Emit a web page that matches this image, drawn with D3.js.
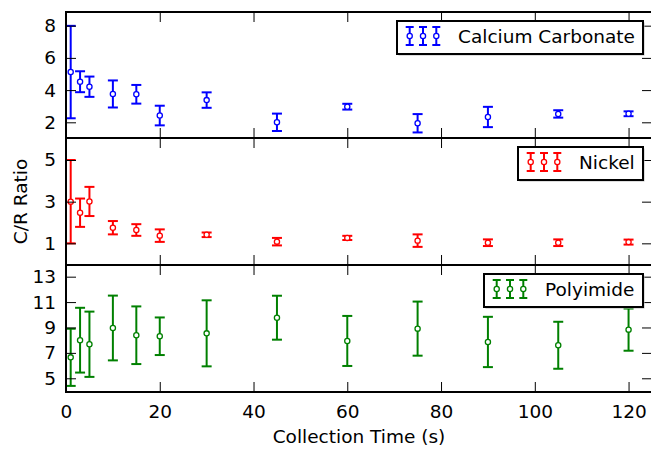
<!DOCTYPE html>
<html>
<head>
<meta charset="utf-8">
<script src="https://cdn.jsdelivr.net/npm/d3@7"></script>
<style>
  html, body { margin: 0; padding: 0; background: #fff; }
  svg { display: block; }
  text { font-family: "DejaVu Sans", sans-serif; }
</style>
</head>
<body>
<svg id="chart" width="651" height="450"></svg>
<script>
// ---------- data ----------
const times = [1, 3, 5, 10, 15, 20, 30, 45, 60, 75, 90, 105, 120];

const caMean = [5.12, 4.52, 4.21, 3.76, 3.74, 2.42, 3.38, 2.00, 2.97, 1.94, 2.33, 2.52, 2.53];
const caErr  = [2.87, 0.65, 0.63, 0.84, 0.58, 0.61, 0.48, 0.54, 0.18, 0.57, 0.63, 0.23, 0.15];

const niMean = [3.00, 2.47, 3.01, 1.75, 1.64, 1.37, 1.41, 1.08, 1.26, 1.13, 1.03, 1.03, 1.06];
const niErr  = [2.00, 0.68, 0.70, 0.32, 0.28, 0.30, 0.11, 0.18, 0.10, 0.30, 0.16, 0.16, 0.12];

const piMean = [6.65, 8.00, 7.68, 8.96, 8.39, 8.31, 8.54, 9.77, 7.94, 8.91, 7.86, 7.60, 8.83];
const piErr  = [2.25, 2.55, 2.57, 2.55, 2.27, 1.48, 2.60, 1.73, 1.97, 2.13, 1.98, 1.85, 1.66];

const seriesNames = ["Calcium Carbonate", "Nickel", "Polyimide"];
const xTicks = [0, 20, 40, 60, 80, 100, 120];
const caTicks = [2, 4, 6, 8];
const niTicks = [1, 3, 5];
const piTicks = [5, 7, 9, 11, 13];

const xLabel = "Collection Time (s)";
const yLabel = "C/R Ratio";

// ---------- layout ----------
const svg = d3.select("#chart");
const W = 651, H = 450;
svg.append("rect").attr("width", W).attr("height", H).attr("fill", "#fff");

const left = 66, right = 652;
const fontSize = 18.5;

const x = d3.scaleLinear().domain([0, 125]).range([left, right]);

const panels = [
  { name: seriesNames[0], mean: caMean, err: caErr, ticks: caTicks, color: "#0000ff",
    top: 12, bottom: 138, domain: [1.025, 8.85], legendLeft: 397 },
  { name: seriesNames[1], mean: niMean, err: niErr, ticks: niTicks, color: "#ff0000",
    top: 138, bottom: 265, domain: [-0.04, 6.056], legendLeft: 518 },
  { name: seriesNames[2], mean: piMean, err: piErr, ticks: piTicks, color: "#008000",
    top: 265, bottom: 392, domain: [3.92, 13.92], legendLeft: 484 }
];

const legendRight = 643;
const capHalf = 5;

panels.forEach((p, i) => {
  const y = d3.scaleLinear().domain(p.domain).range([p.bottom, p.top]);
  const g = svg.append("g");

  const clipId = "clip" + i;
  svg.append("clipPath").attr("id", clipId)
    .append("rect").attr("x", left - 8).attr("y", p.top).attr("width", right - left + 16).attr("height", p.bottom - p.top);

  const data = times.map((t, k) => ({ t, m: p.mean[k], e: p.err[k] }));
  const dg = g.append("g").attr("clip-path", `url(#${clipId})`);

  const bars = dg.selectAll("g.eb").data(data).enter().append("g").attr("class", "eb");
  bars.append("line")
    .attr("x1", d => x(d.t)).attr("x2", d => x(d.t))
    .attr("y1", d => y(d.m - d.e)).attr("y2", d => y(d.m + d.e))
    .attr("stroke", p.color).attr("stroke-width", 2);
  bars.append("line")
    .attr("x1", d => x(d.t) - capHalf).attr("x2", d => x(d.t) + capHalf)
    .attr("y1", d => y(d.m + d.e)).attr("y2", d => y(d.m + d.e))
    .attr("stroke", p.color).attr("stroke-width", 2);
  bars.append("line")
    .attr("x1", d => x(d.t) - capHalf).attr("x2", d => x(d.t) + capHalf)
    .attr("y1", d => y(d.m - d.e)).attr("y2", d => y(d.m - d.e))
    .attr("stroke", p.color).attr("stroke-width", 2);
  bars.append("circle")
    .attr("cx", d => x(d.t)).attr("cy", d => y(d.m)).attr("r", 2.6)
    .attr("fill", "#fff").attr("stroke", p.color).attr("stroke-width", 1.3);

  const axL = d3.axisLeft(y).tickValues(p.ticks).tickSize(-10).tickPadding(10).tickFormat(d3.format("d"));
  const axR = d3.axisRight(y).tickValues(p.ticks).tickSize(-10).tickFormat("");
  const axB = d3.axisBottom(x).tickValues(xTicks).tickSize(-10).tickPadding(13).tickFormat(d3.format("d"));
  const axT = d3.axisTop(x).tickValues(xTicks).tickSize(-10).tickFormat("");

  const gl = g.append("g").attr("transform", `translate(${left},0)`).call(axL);
  const gr = g.append("g").attr("transform", `translate(${right},0)`).call(axR);
  const gb = g.append("g").attr("transform", `translate(0,${p.bottom})`).call(axB);
  const gt = g.append("g").attr("transform", `translate(0,${p.top})`).call(axT);
  [gl, gr, gb, gt].forEach(a => {
    a.select(".domain").remove();
    a.selectAll(".tick line").attr("stroke", "#000").attr("stroke-width", 1);
    a.selectAll(".tick text").attr("fill", "#000").style("font-size", fontSize + "px")
      .style("font-family", '"DejaVu Sans", sans-serif');
  });
  if (i < 2) gb.selectAll(".tick text").remove();

  g.append("rect").attr("x", left).attr("y", p.top)
    .attr("width", right - left).attr("height", p.bottom - p.top)
    .attr("fill", "none").attr("stroke", "#000").attr("stroke-width", 2);

  // legend
  const lx = p.legendLeft, ly = p.top + 9, lw = legendRight - p.legendLeft, lh = 33;
  const lg = svg.append("g");
  lg.append("rect").attr("x", lx + 1.5).attr("y", ly + 1.5).attr("width", lw).attr("height", lh)
    .attr("fill", "#bbb");
  lg.append("rect").attr("x", lx).attr("y", ly).attr("width", lw).attr("height", lh)
    .attr("fill", "#fff").attr("stroke", "#000").attr("stroke-width", 2);
  const cy = ly + 15;
  [0, 1, 2].forEach(j => {
    const mx = lx + 12.7 + j * 13.3;
    lg.append("line").attr("x1", mx).attr("x2", mx).attr("y1", cy - 9).attr("y2", cy + 9)
      .attr("stroke", p.color).attr("stroke-width", 2);
    lg.append("line").attr("x1", mx - 4).attr("x2", mx + 4).attr("y1", cy - 9).attr("y2", cy - 9)
      .attr("stroke", p.color).attr("stroke-width", 2);
    lg.append("line").attr("x1", mx - 4).attr("x2", mx + 4).attr("y1", cy + 9).attr("y2", cy + 9)
      .attr("stroke", p.color).attr("stroke-width", 2);
    lg.append("circle").attr("cx", mx).attr("cy", cy).attr("r", 2.6)
      .attr("fill", "#fff").attr("stroke", p.color).attr("stroke-width", 1.3);
  });
  lg.append("text").attr("x", lx + 61).attr("y", ly + 22)
    .style("font-size", fontSize + "px").attr("fill", "#000").text(p.name);
});

svg.append("text").attr("x", (left + right) / 2).attr("y", 443)
  .attr("text-anchor", "middle").style("font-size", fontSize + "px").attr("fill", "#000").text(xLabel);
svg.append("text").attr("transform", `translate(26.5,201.5) rotate(-90)`)
  .attr("text-anchor", "middle").style("font-size", fontSize + "px").attr("fill", "#000").text(yLabel);
</script>
</body>
</html>
